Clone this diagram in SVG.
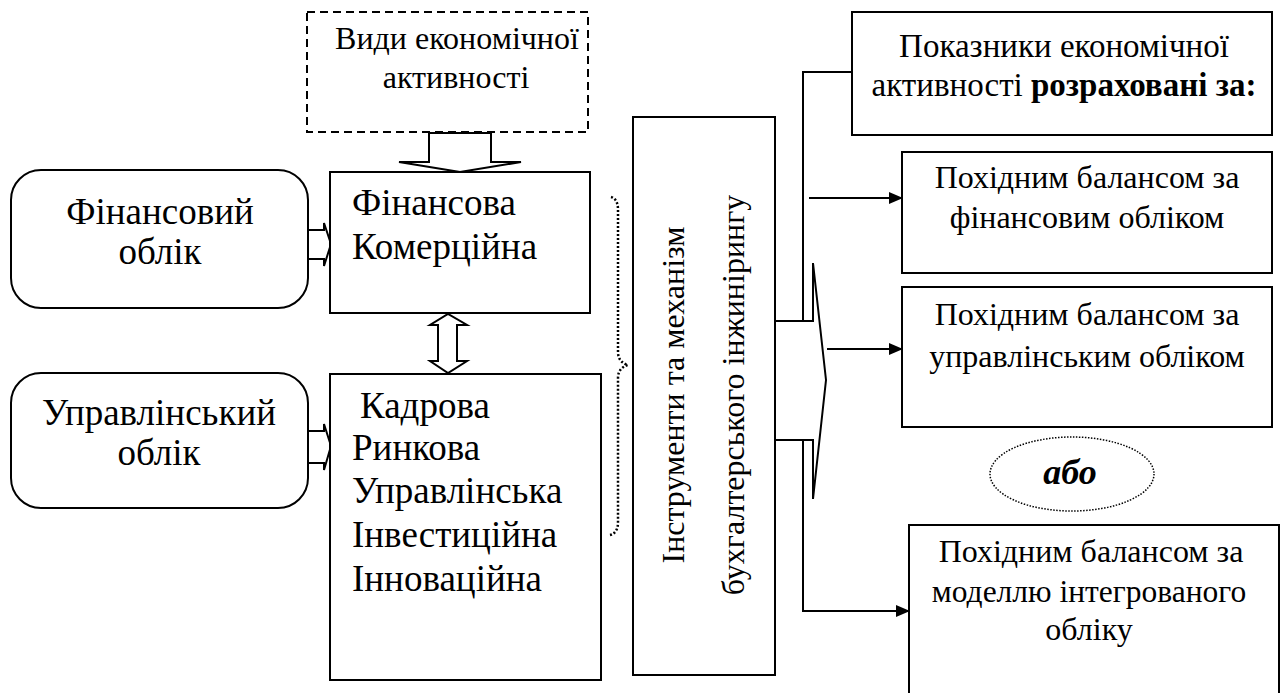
<svg xmlns="http://www.w3.org/2000/svg" width="1283" height="693" viewBox="0 0 1283 693">
<defs>
<marker id="ah" markerWidth="14" markerHeight="12" refX="13" refY="6" orient="auto" markerUnits="userSpaceOnUse">
<path d="M0,0 L14,6 L0,12 Z" fill="#000"/>
</marker>
</defs>
<rect width="1283" height="693" fill="#fff"/>

<g id="connectors" fill="#fff" stroke="#000" stroke-width="2">
<path d="M429,133 L491,133 L491,162 L521,162 L460,172 L399,162 L429,162 Z"/>
<path d="M438,325 L430,325 L448,314 L467,325 L457,325 L457,361 L467,361 L448,373 L430,361 L438,361 Z"/>
<path d="M308,230 L324,230 L324,223 L331,244 L324,266 L324,259 L308,259"/>
<path d="M308,431 L324,431 L324,424 L331,446 L324,470 L324,463 L308,463"/>
<path d="M611,197 Q618,199 618,210 L618,352 Q618,362 628,365 Q618,368 618,378 L618,522 Q618,533 610,535" fill="none" stroke-width="2.5" stroke-dasharray="2,2"/>
<path d="M775,321 L813,321 L813,263 L826,380 L813,499 L813,440 L775,440"/>
<path fill="none" d="M803,321 L803,72 L852,72"/>
<path fill="none" d="M803,440 L803,611 L909,611" marker-end="url(#ah)"/>
<path fill="none" d="M809,198 L902,198" marker-end="url(#ah)"/>
<path fill="none" d="M827,349 L902,349" marker-end="url(#ah)"/>
</g>

<g id="vydy">
<rect x="307" y="12" width="281" height="120" fill="#fff" stroke="#000" stroke-width="2" stroke-dasharray="8,5"/>
<text style="font-family:'Liberation Serif',serif;font-size:32px" x="457" y="49" text-anchor="middle">Види економічної</text>
<text style="font-family:'Liberation Serif',serif;font-size:32px" x="456" y="88" text-anchor="middle">активності</text>
</g>

<g id="fin-oblik">
<rect x="11" y="170" width="297" height="138" rx="30" fill="#fff" stroke="#000" stroke-width="2"/>
<text style="font-family:'Liberation Serif',serif;font-size:37px" x="160" y="224" text-anchor="middle">Фінансовий</text>
<text style="font-family:'Liberation Serif',serif;font-size:37px" x="160" y="264" text-anchor="middle">облік</text>
</g>

<g id="upr-oblik">
<rect x="11" y="373" width="297" height="135" rx="30" fill="#fff" stroke="#000" stroke-width="2"/>
<text style="font-family:'Liberation Serif',serif;font-size:37px" x="159" y="425" text-anchor="middle">Управлінський</text>
<text style="font-family:'Liberation Serif',serif;font-size:37px" x="159" y="465" text-anchor="middle">облік</text>
</g>

<g id="finansova">
<rect x="330" y="172" width="260" height="141" fill="#fff" stroke="#000" stroke-width="2"/>
<text style="font-family:'Liberation Serif',serif;font-size:37px" x="352" y="215">Фінансова</text>
<text style="font-family:'Liberation Serif',serif;font-size:37px" x="352" y="259">Комерційна</text>
</g>

<g id="kadrova">
<rect x="330" y="374" width="271" height="306" fill="#fff" stroke="#000" stroke-width="2"/>
<text style="font-family:'Liberation Serif',serif;font-size:37px" x="360" y="418">Кадрова</text>
<text style="font-family:'Liberation Serif',serif;font-size:37px" x="352" y="460">Ринкова</text>
<text style="font-family:'Liberation Serif',serif;font-size:37px" x="352" y="503">Управлінська</text>
<text style="font-family:'Liberation Serif',serif;font-size:37px" x="352" y="547">Інвестиційна</text>
<text style="font-family:'Liberation Serif',serif;font-size:37px" x="352" y="591">Інноваційна</text>
</g>

<g id="instrumenty">
<rect x="633" y="117" width="142" height="558" fill="#fff" stroke="#000" stroke-width="2"/>
<text style="font-family:'Liberation Serif',serif;font-size:32px" transform="translate(684,395) rotate(-90)" text-anchor="middle">Інструменти та механізм</text>
<text style="font-family:'Liberation Serif',serif;font-size:32px" transform="translate(744,395) rotate(-90)" text-anchor="middle">бухгалтерського інжинірингу</text>
</g>

<g id="pokaznyky">
<rect x="852" y="12" width="420" height="123" fill="#fff" stroke="#000" stroke-width="2"/>
<text style="font-family:'Liberation Serif',serif;font-size:33px" x="1064" y="57" text-anchor="middle">Показники економічної</text>
<text style="font-family:'Liberation Serif',serif;font-size:33px" x="1064" y="96" text-anchor="middle">активності <tspan font-weight="bold">розраховані за:</tspan></text>
</g>

<g id="fin-balance">
<rect x="902" y="152" width="370" height="121" fill="#fff" stroke="#000" stroke-width="2"/>
<text style="font-family:'Liberation Serif',serif;font-size:32px" x="1087" y="188" text-anchor="middle">Похідним балансом за</text>
<text style="font-family:'Liberation Serif',serif;font-size:32px" x="1087" y="228" text-anchor="middle">фінансовим обліком</text>
</g>

<g id="upr-balance">
<rect x="902" y="287" width="370" height="140" fill="#fff" stroke="#000" stroke-width="2"/>
<text style="font-family:'Liberation Serif',serif;font-size:32px" x="1087" y="325" text-anchor="middle">Похідним балансом за</text>
<text style="font-family:'Liberation Serif',serif;font-size:32px" x="1087" y="367" text-anchor="middle">управлінським обліком</text>
</g>

<g id="abo">
<ellipse cx="1072" cy="474" rx="82" ry="37" fill="#fff" stroke="#000" stroke-width="1.5" stroke-dasharray="1.5,1.5"/>
<text style="font-family:'Liberation Serif',serif;font-size:36px;font-weight:bold;font-style:italic" x="1070" y="484" text-anchor="middle">або</text>
</g>

<g id="int-balance">
<rect x="909" y="525" width="370" height="180" fill="#fff" stroke="#000" stroke-width="2"/>
<text style="font-family:'Liberation Serif',serif;font-size:32px" x="1091" y="562" text-anchor="middle">Похідним балансом за</text>
<text style="font-family:'Liberation Serif',serif;font-size:31.5px" x="1089" y="602" text-anchor="middle">моделлю інтегрованого</text>
<text style="font-family:'Liberation Serif',serif;font-size:32px" x="1089" y="640" text-anchor="middle">обліку</text>
</g>
</svg>
